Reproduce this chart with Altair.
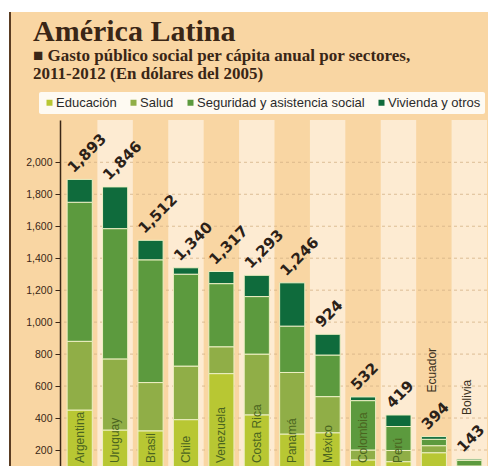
import altair as alt
import pandas as pd

# ---------------- data ----------------
countries = ["Argentina", "Uruguay", "Brasil", "Chile", "Venezuela", "Costa Rica",
             "Panamá", "México", "Colombia", "Perú", "Ecuador", "Bolivia"]
totals = [1893, 1846, 1512, 1340, 1317, 1293, 1246, 924, 532, 419, 394, 143]
educacion = [450, 325, 320, 390, 678, 420, 300, 308, 138, 127, 183, 75]
salud = [430, 445, 302, 335, 168, 380, 385, 226, 62, 70, 44, 25]
seguridad = [870, 815, 768, 575, 395, 360, 290, 260, 309, 150, 40, 35]
vivienda = [143, 261, 122, 40, 76, 133, 271, 130, 23, 72, 17, 8]
sectors = ["Educación", "Salud", "Seguridad y asistencia social", "Vivienda y otros"]
y_ticks = [200, 400, 600, 800, 1000, 1200, 1400, 1600, 1800, 2000]
outside_names = ["Ecuador", "Bolivia"]

title_text = ["América Latina"]
subtitle_1 = ["■ Gasto público social per cápita anual por sectores,"]
subtitle_2 = ["2011-2012 (En dólares del 2005)"]

# ---------------- style ----------------
colors = ["#b8c733", "#90ae47", "#5c9a3e", "#0f6b3c"]
ORANGE = "#f9d6a3"
LIGHT = "#fdebd2"
BROWN = "#3a2616"
SANS = "Liberation Sans, Arial, sans-serif"
SERIF = "Liberation Serif, DejaVu Serif, serif"

rows = []
for i, c in enumerate(countries):
    for k, (s, vals) in enumerate(zip(sectors, [educacion, salud, seguridad, vivienda])):
        rows.append({"pais": c, "sector": s, "orden": k, "valor": vals[i]})
seg = pd.DataFrame(rows)

drawn = [educacion[i] + salud[i] + seguridad[i] + vivienda[i] for i in range(len(countries))]
info = pd.DataFrame({
    "pais": countries,
    "idx": list(range(len(countries))),
    "drawn": drawn,
    "label": [f"{t:,}" for t in totals],
    "outside": [c in outside_names for c in countries],
})

W, H = 425, 346
yscale = alt.Scale(domain=[99.9, 2264.7], nice=False, zero=False)
yaxis = alt.Axis(values=y_ticks, format=",.0f", grid=False, title=None, zindex=1,
                 domainColor=BROWN, domainWidth=1.5, tickColor=BROWN,
                 tickSize=5, tickWidth=1, labelFont=SANS, labelFontSize=10.5,
                 labelColor=BROWN, labelPadding=3, offset=2)
xenc = alt.X("pais:N", sort=countries, axis=None,
             scale=alt.Scale(paddingInner=0.29, paddingOuter=0.145))

one = pd.DataFrame({"a": [0]})

bg = alt.Chart(one).mark_rect(color=ORANGE).encode(
    x=alt.value(-51), x2=alt.value(W + 10), y=alt.value(-108), y2=alt.value(H))
edge = alt.Chart(one).mark_rule(color="#5a3c22", strokeWidth=2).encode(
    x=alt.value(-52), y=alt.value(-108), y2=alt.value(H))

stripes = alt.Chart(info).transform_filter("datum.idx % 2 == 1").mark_bar(
    color=LIGHT, width=alt.RelativeBandSize(1 / 0.71)).encode(
    x=xenc, y=alt.value(0), y2=alt.value(H))

grid = alt.Chart(pd.DataFrame({"v": y_ticks})).mark_rule(
    color="#d4b386", strokeDash=[3, 3], strokeWidth=0.8).encode(
    y=alt.Y("v:Q", scale=yscale, axis=yaxis))

bars = alt.Chart(seg).mark_bar(stroke="#eef0c4", strokeWidth=1, clip=True).encode(
    x=xenc,
    y=alt.Y("valor:Q", stack="zero", scale=yscale, axis=yaxis),
    color=alt.Color("sector:N", scale=alt.Scale(domain=sectors, range=colors),
                    legend=alt.Legend(orient="none", legendX=-23, legendY=-28,
                                      direction="horizontal", title=None,
                                      fillColor="#fefaf2", padding=4, cornerRadius=2,
                                      symbolType="square", symbolSize=36,
                                      symbolStrokeWidth=0, labelFont=SANS,
                                      labelFontSize=13, labelColor="#2a2a2a",
                                      columnPadding=10, labelOffset=0, labelLimit=0)),
    order=alt.Order("orden:Q", sort="ascending"),
)

labels = alt.Chart(info).mark_text(
    angle=315, align="left", baseline="alphabetic", dx=0, dy=-8.5,
    font="DejaVu Sans", fontWeight="bold", fontSize=15, color="#2b2118").encode(
    x=xenc, y=alt.Y("drawn:Q", scale=yscale, axis=yaxis), text="label:N")

names_in = alt.Chart(info).transform_filter("!datum.outside").transform_calculate(
    base="118").mark_text(
    angle=270, align="left", baseline="middle", font=SANS, fontSize=12,
    color="#4a6420").encode(
    x=xenc, y=alt.Y("base:Q", scale=yscale, axis=yaxis), text="pais:N")

names_out = alt.Chart(info).transform_filter("datum.outside").mark_text(
    angle=270, align="left", baseline="middle", dx=44, dy=-2,
    font=SANS, fontSize=12, color="#3a3020").encode(
    x=xenc, y=alt.Y("drawn:Q", scale=yscale, axis=yaxis), text="pais:N")

t1 = alt.Chart(pd.DataFrame({"t": title_text})).mark_text(
    align="left", baseline="alphabetic", font=SERIF, fontWeight="bold",
    fontSize=30, color=BROWN).encode(text="t:N", x=alt.value(-29), y=alt.value(-79))
t2 = alt.Chart(pd.DataFrame({"t": subtitle_1})).mark_text(
    align="left", baseline="alphabetic", font=SERIF, fontWeight="bold",
    fontSize=17, color=BROWN).encode(text="t:N", x=alt.value(-29), y=alt.value(-59))
t3 = alt.Chart(pd.DataFrame({"t": subtitle_2})).mark_text(
    align="left", baseline="alphabetic", font=SERIF, fontWeight="bold",
    fontSize=17, color=BROWN).encode(text="t:N", x=alt.value(-29), y=alt.value(-41))

chart = alt.layer(bg, edge, stripes, grid, bars, labels, names_in, names_out, t1, t2, t3).properties(
    width=W, height=H,
    autosize=alt.AutoSizeParams(type="none"),
    padding={"left": 54, "top": 112, "right": 1, "bottom": 0},
    background="white",
).configure_view(strokeWidth=0)

chart.save("out.html", embed_options={"renderer": "svg", "actions": False})
